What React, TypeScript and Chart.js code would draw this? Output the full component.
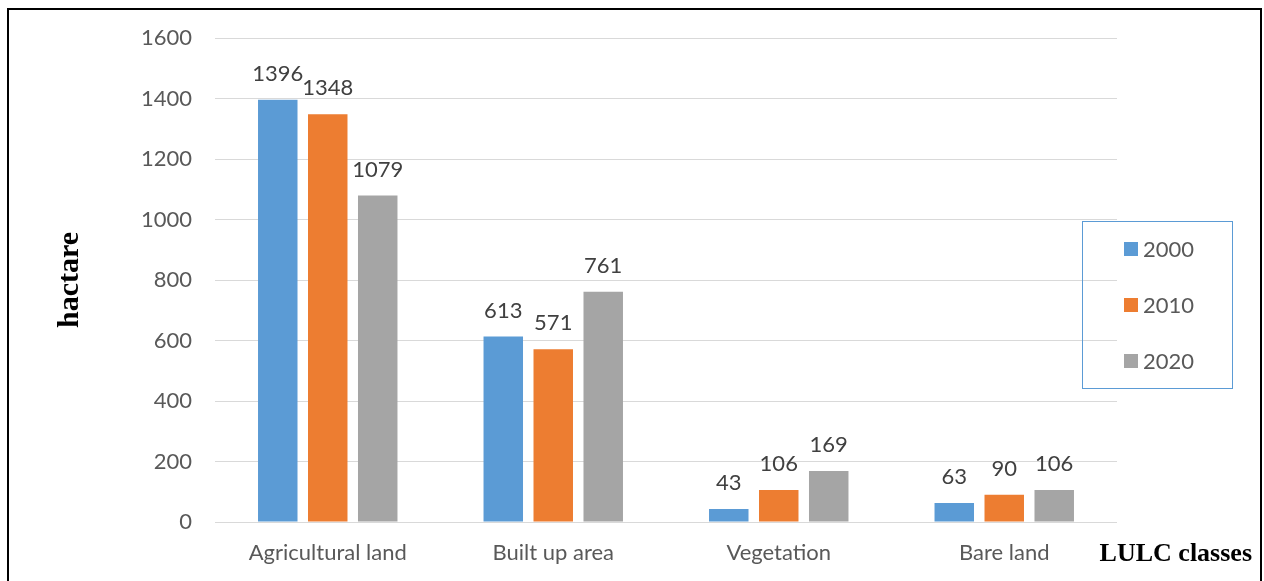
import React, { useEffect, useRef } from "react";
import { Chart, registerables } from "chart.js";

Chart.register(...registerables);

const categories = ["Agricultural land", "Built up area", "Vegetation", "Bare land"];
const years = ["2000", "2010", "2020"];
const values2000 = [1396, 613, 43, 63];
const values2010 = [1348, 571, 106, 90];
const values2020 = [1079, 761, 169, 106];
const colors = ["#5B9BD5", "#ED7D31", "#A5A5A5"];
const yTitle = "hactare";
const xTitle = "LULC classes";

const W = 1264;
const H = 581;
const FONT = "Lato, 'Open Sans', sans-serif";
const FSIZE = 22;

const dataLabelsPlugin = {
  id: "dataLabels",
  afterDatasetsDraw(chart: any) {
    const ctx = chart.ctx;
    ctx.save();
    ctx.font = `${FSIZE}px ${FONT}`;
    ctx.fillStyle = "#404040";
    ctx.textAlign = "center";
    ctx.textBaseline = "alphabetic";
    chart.data.datasets.forEach((ds: any, i: number) => {
      const meta = chart.getDatasetMeta(i);
      meta.data.forEach((el: any, j: number) => {
        ctx.fillText(String(ds.data[j]), el.x, el.y - 19);
      });
    });
    ctx.restore();
  },
};

const titlesAndLegendPlugin = {
  id: "titlesAndLegend",
  afterDraw(chart: any) {
    const ctx = chart.ctx;
    const area = chart.chartArea;
    ctx.save();
    ctx.font = `bold 30px 'Liberation Serif', 'Times New Roman', serif`;
    ctx.fillStyle = "#000000";
    ctx.textAlign = "center";
    ctx.textBaseline = "middle";
    ctx.translate(70, (area.top + area.bottom) / 2);
    ctx.rotate(-Math.PI / 2);
    ctx.fillText(yTitle, 0, 0);
    ctx.restore();

    ctx.save();
    ctx.font = `bold 26px 'Liberation Serif', 'Times New Roman', serif`;
    ctx.fillStyle = "#000000";
    ctx.textAlign = "right";
    ctx.textBaseline = "alphabetic";
    ctx.fillText(xTitle, 1252, 561);
    ctx.restore();

    ctx.save();
    const bx = 1082.5, by = 221.5, bw = 150, bh = 167;
    ctx.strokeStyle = "#5B9BD5";
    ctx.lineWidth = 1;
    ctx.strokeRect(bx, by, bw, bh);
    ctx.font = `${FSIZE}px ${FONT}`;
    ctx.textAlign = "left";
    ctx.textBaseline = "middle";
    chart.data.datasets.forEach((ds: any, i: number) => {
      const cy = 249 + i * 56;
      ctx.fillStyle = ds.backgroundColor;
      ctx.fillRect(1124, cy - 7, 14, 14);
      ctx.fillStyle = "#595959";
      ctx.fillText(ds.label, 1143, cy + 1);
    });
    ctx.restore();
  },
};

export default function App() {
  const canvasRef = useRef<HTMLCanvasElement | null>(null);

  useEffect(() => {
    if (!canvasRef.current) return;
    const seriesValues = [values2000, values2010, values2020];
    const chart = new Chart(canvasRef.current, {
      type: "bar",
      data: {
        labels: categories,
        datasets: years.map((y, i) => ({
          label: y,
          data: seriesValues[i],
          backgroundColor: colors[i],
          borderWidth: 0,
          categoryPercentage: 0.665,
          barPercentage: 0.79,
        })),
      },
      options: {
        animation: false,
        responsive: false,
        maintainAspectRatio: false,
        layout: { padding: { left: 0, right: W - 1117, top: 38, bottom: 0 } },
        plugins: {
          legend: { display: false },
          tooltip: { enabled: false },
          title: { display: false },
        },
        scales: {
          x: {
            grid: { display: false, drawTicks: false },
            border: { display: false },
            ticks: {
              color: "#595959",
              font: { family: FONT, size: FSIZE },
              padding: 18,
              maxRotation: 0,
              autoSkip: false,
            },
            afterFit: (s: any) => {
              s.height = H - 522;
            },
          },
          y: {
            min: 0,
            max: 1600,
            grid: { color: "#D9D9D9", lineWidth: 1, drawTicks: false },
            border: { display: false },
            ticks: {
              stepSize: 200,
              color: "#595959",
              font: { family: FONT, size: FSIZE },
              padding: 23,
              callback: (v: any) => String(v),
            },
            afterFit: (s: any) => {
              s.width = 215;
            },
          },
        },
      },
      plugins: [dataLabelsPlugin, titlesAndLegendPlugin],
    });
    return () => chart.destroy();
  }, []);

  return (
    <div style={{ position: "fixed", left: 0, top: 0, width: W, height: H, background: "#ffffff", overflow: "hidden" }}>
      <canvas ref={canvasRef} width={W} height={H} style={{ position: "absolute", left: 0, top: 0, width: W, height: H }} />
      <div
        style={{
          position: "absolute",
          left: 7,
          top: 8,
          width: 1251,
          height: 620,
          border: "2px solid #000000",
          pointerEvents: "none",
        }}
      />
    </div>
  );
}
